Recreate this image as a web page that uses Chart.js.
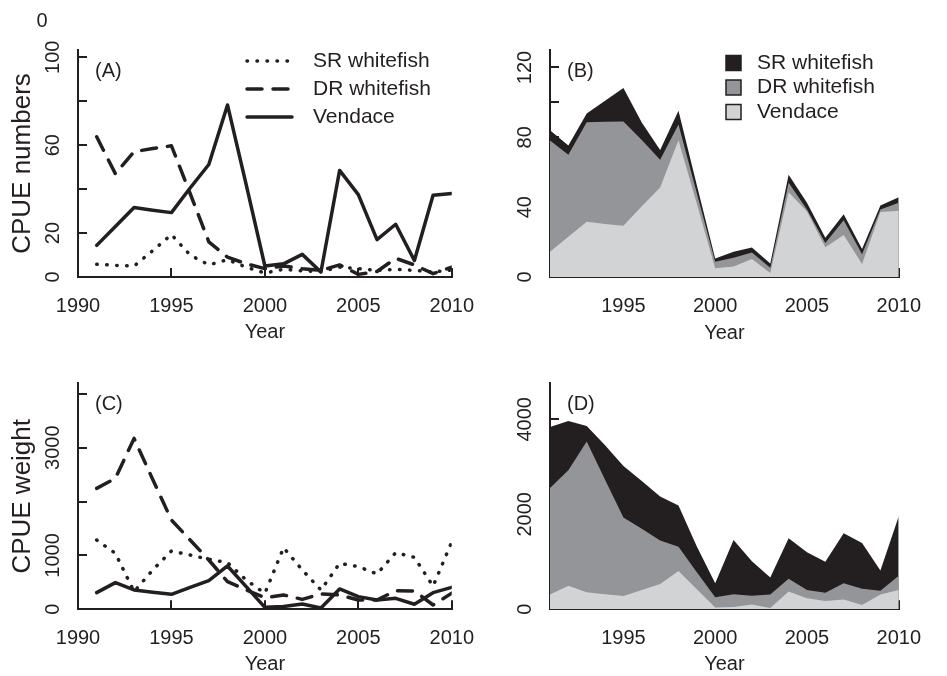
<!DOCTYPE html>
<html>
<head>
<title>CPUE of whitefish and vendace</title>
<style>
  body {margin: 0; background: #fff;}
  #wrap {position: relative; width: 947px; height: 676px; overflow: hidden; background: #fff;}
  #wrap canvas {position: absolute;}
</style>
<script src="https://cdn.jsdelivr.net/npm/chart.js"></script>
</head>
<body>
<div id="wrap">
  <canvas id="chartA" width="500" height="350" style="left:0px; top:0px"></canvas>
  <canvas id="chartB" width="477" height="350" style="left:470px; top:0px"></canvas>
  <canvas id="chartC" width="500" height="326" style="left:0px; top:350px"></canvas>
  <canvas id="chartD" width="477" height="326" style="left:470px; top:350px"></canvas>
</div>
<script>
// survey years
var years = [1991, 1992, 1993, 1994, 1995, 1996, 1997, 1998, 1999, 2000,
             2001, 2002, 2003, 2004, 2005, 2006, 2007, 2008, 2009, 2010];
var seriesNames = ['SR whitefish', 'DR whitefish', 'Vendace'];

// CPUE numbers
var numSR = [5.8, 5.3, 5.0, 12, 19.3, 10, 5.5, 7.9, 4.5, 1.8, 3.5, 2.8, 2.5, 4.5, 3.8, 3.0, 3.5, 3.0, 2.3, 3.2];
var numDR = [63.8, 47, 57, 58.5, 59.7, 38, 16, 9, 6, 3.8, 5, 3.8, 3, 5.5, 1.2, 2.5, 8.5, 5.5, 1.5, 4.5];
var numV  = [14.4, 23, 31.6, 30.4, 29.3, 40.5, 51.2, 78.3, 42, 5, 6, 10.3, 2.3, 48.5, 37.5, 17, 24, 7.5, 37.2, 38];

// CPUE weight
var wtSR = [1286, 1039, 328, 730, 1082, 1008, 928, 866, 544, 297, 1144, 730, 359, 853, 792, 656, 1051, 965, 430, 1250];
var wtDR = [2245, 2430, 3172, 2410, 1657, 1286, 915, 513, 359, 216, 266, 185, 284, 266, 173, 173, 346, 340, 80, 300];
var wtV  = [309, 495, 359, 315, 278, 408, 532, 804, 420, 37, 50, 99, 25, 377, 235, 173, 204, 93, 309, 408];

// axis ticks and which of them carry a label
var yearTicks = [1990, 1995, 2000, 2005, 2010];
var yearTicksStack = [1995, 2000, 2005, 2010];
var numTicks = [0, 20, 40, 60, 80, 100];
var numLabels = [0, 20, 60, 100];
var numStackTicks = [0, 20, 40, 60, 80, 100, 120];
var numStackLabels = [0, 40, 80, 120];
var wtTicks = [0, 1000, 2000, 3000, 4000];
var wtLabels = [0, 1000, 3000];
var wtStackTicks = [0, 1000, 2000, 3000, 4000];
var wtStackLabels = [0, 2000, 4000];

var ink = '#231f20';
var darkFill = '#231f20', midFill = '#939598', lightFill = '#d1d3d4';
var family = "'Liberation Sans', Arial, Helvetica, sans-serif";
Chart.defaults.font.family = family;
Chart.defaults.color = ink;

function pts(vals) {
  return years.map(function (y, i) { return {x: y, y: vals[i]}; });
}

function xAxis(min, ticks, height, titlePad) {
  return {
    type: 'linear', min: min, max: 2010,
    afterFit: function (s) { s.height = height; },
    afterBuildTicks: function (s) { s.ticks = ticks.map(function (v) { return {value: v}; }); },
    grid: {drawOnChartArea: false, drawTicks: true, tickLength: -9, color: ink, lineWidth: 2},
    border: {color: ink, width: 2},
    ticks: {font: {size: 20}, color: ink, padding: 26, maxRotation: 0, autoSkip: false,
            callback: function (v) { return String(v); }},
    title: {display: true, text: 'Year', font: {size: 20}, color: ink, padding: {top: 0, bottom: titlePad}}
  };
}

function yAxis(max, ticks, width, title, stacked) {
  return {
    type: 'linear', min: 0, max: max, stacked: stacked,
    afterFit: function (s) { s.width = width; },
    afterBuildTicks: function (s) { s.ticks = ticks.map(function (v) { return {value: v}; }); },
    grid: {drawOnChartArea: false, drawTicks: true, tickLength: -9, color: ink, lineWidth: 2},
    border: {color: ink, width: 2},
    ticks: {display: false},
    title: title ? {display: true, text: title, font: {size: 26, lineHeight: 1.2}, color: ink,
                    padding: {top: 7, bottom: 0}} : {display: false}
  };
}

// vertical tick labels, panel tag and the key
var decor = {
  id: 'decor',
  afterDraw: function (chart, args, opts) {
    var ctx = chart.ctx, area = chart.chartArea, ys = chart.scales.y;
    ctx.save();
    ctx.fillStyle = ink;
    ctx.font = '20px ' + family;
    ctx.textAlign = 'center';
    ctx.textBaseline = 'middle';
    opts.yLabels.forEach(function (v) {
      ctx.save();
      ctx.translate(area.left - 25, ys.getPixelForValue(v));
      ctx.rotate(-Math.PI / 2);
      ctx.fillText(String(v), 0, 0);
      ctx.restore();
    });
    if (opts.extra) {
      ctx.fillText(opts.extra.text, opts.extra.x, opts.extra.y);
    }
    ctx.textAlign = 'left';
    ctx.fillText(opts.tag, area.left + 17, area.top + 21);

    var key = opts.key;
    if (key) {
      ctx.font = '21px ' + family;
      key.order.forEach(function (idx, row) {
        var ds = chart.data.datasets[idx];
        var cy = key.y + row * key.gap;
        if (key.kind === 'line') {
          ctx.save();
          ctx.strokeStyle = ds.borderColor;
          ctx.lineWidth = ds.borderWidth;
          ctx.lineCap = ds.borderCapStyle || 'butt';
          ctx.setLineDash(ds.borderDash || []);
          ctx.beginPath();
          ctx.moveTo(key.x, cy);
          ctx.lineTo(key.x + key.len, cy);
          ctx.stroke();
          ctx.restore();
        } else {
          ctx.fillStyle = ds.backgroundColor;
          ctx.fillRect(key.x, cy - key.len / 2, key.len, key.len);
          ctx.strokeStyle = ink;
          ctx.lineWidth = 1.5;
          ctx.strokeRect(key.x, cy - key.len / 2, key.len, key.len);
        }
        ctx.fillStyle = ink;
        ctx.fillText(ds.label, key.textX, cy);
      });
    }
    ctx.restore();
  }
};

function lineSets(sr, dr, v) {
  var base = {pointRadius: 0, borderWidth: 3.5, borderColor: ink, tension: 0, fill: false,
              borderJoinStyle: 'round', borderCapStyle: 'round'};
  return [
    Object.assign({}, base, {label: seriesNames[0], data: pts(sr), borderDash: [0.5, 9.5]}),
    Object.assign({}, base, {label: seriesNames[1], data: pts(dr), borderDash: [15, 11]}),
    Object.assign({}, base, {label: seriesNames[2], data: pts(v)})
  ];
}

function stackSets(sr, dr, v) {
  var base = {pointRadius: 0, borderWidth: 0, tension: 0, fill: 'origin'};
  return [
    Object.assign({}, base, {label: seriesNames[2], data: pts(v), backgroundColor: lightFill, borderColor: lightFill}),
    Object.assign({}, base, {label: seriesNames[1], data: pts(dr), backgroundColor: midFill, borderColor: midFill}),
    Object.assign({}, base, {label: seriesNames[0], data: pts(sr), backgroundColor: darkFill, borderColor: darkFill})
  ];
}

function makeChart(id, datasets, padding, scales, decorOpts) {
  return new Chart(document.getElementById(id), {
    type: 'line',
    data: {datasets: datasets},
    options: {
      responsive: false, animation: false, devicePixelRatio: 1,
      layout: {padding: padding},
      scales: scales,
      plugins: {legend: {display: false}, tooltip: {enabled: false}, decor: decorOpts}
    },
    plugins: [decor]
  });
}

makeChart('chartA', lineSets(numSR, numDR, numV),
  {left: 0, top: 50, right: 48, bottom: 0},
  {x: xAxis(1990, yearTicks, 73, 6), y: yAxis(103.3, numTicks, 78, 'CPUE numbers', false)},
  {yLabels: numLabels, tag: '(A)', extra: {text: '0', x: 42, y: 21},
   key: {kind: 'line', order: [0, 1, 2], x: 247, len: 45, textX: 313, y: 61, gap: 28}});

makeChart('chartB', stackSets(numSR, numDR, numV),
  {left: 0, top: 50, right: 24, bottom: 0},
  {x: xAxis(1991, yearTicksStack, 73, 5), y: yAxis(130, numStackTicks, 80, null, true)},
  {yLabels: numStackLabels, tag: '(B)',
   key: {kind: 'box', order: [2, 1, 0], x: 256, len: 15, textX: 287, y: 63, gap: 24.5}});

makeChart('chartC', lineSets(wtSR, wtDR, wtV),
  {left: 0, top: 33.3, right: 48, bottom: 0},
  {x: xAxis(1990, yearTicks, 66.7, 0), y: yAxis(4195, wtTicks, 78, 'CPUE weight', false)},
  {yLabels: wtLabels, tag: '(C)'});

makeChart('chartD', stackSets(wtSR, wtDR, wtV),
  {left: 0, top: 33, right: 24, bottom: 0},
  {x: xAxis(1991, yearTicksStack, 66.7, 0), y: yAxis(4764, wtStackTicks, 80, null, true)},
  {yLabels: wtStackLabels, tag: '(D)'});
</script>
</body>
</html>
